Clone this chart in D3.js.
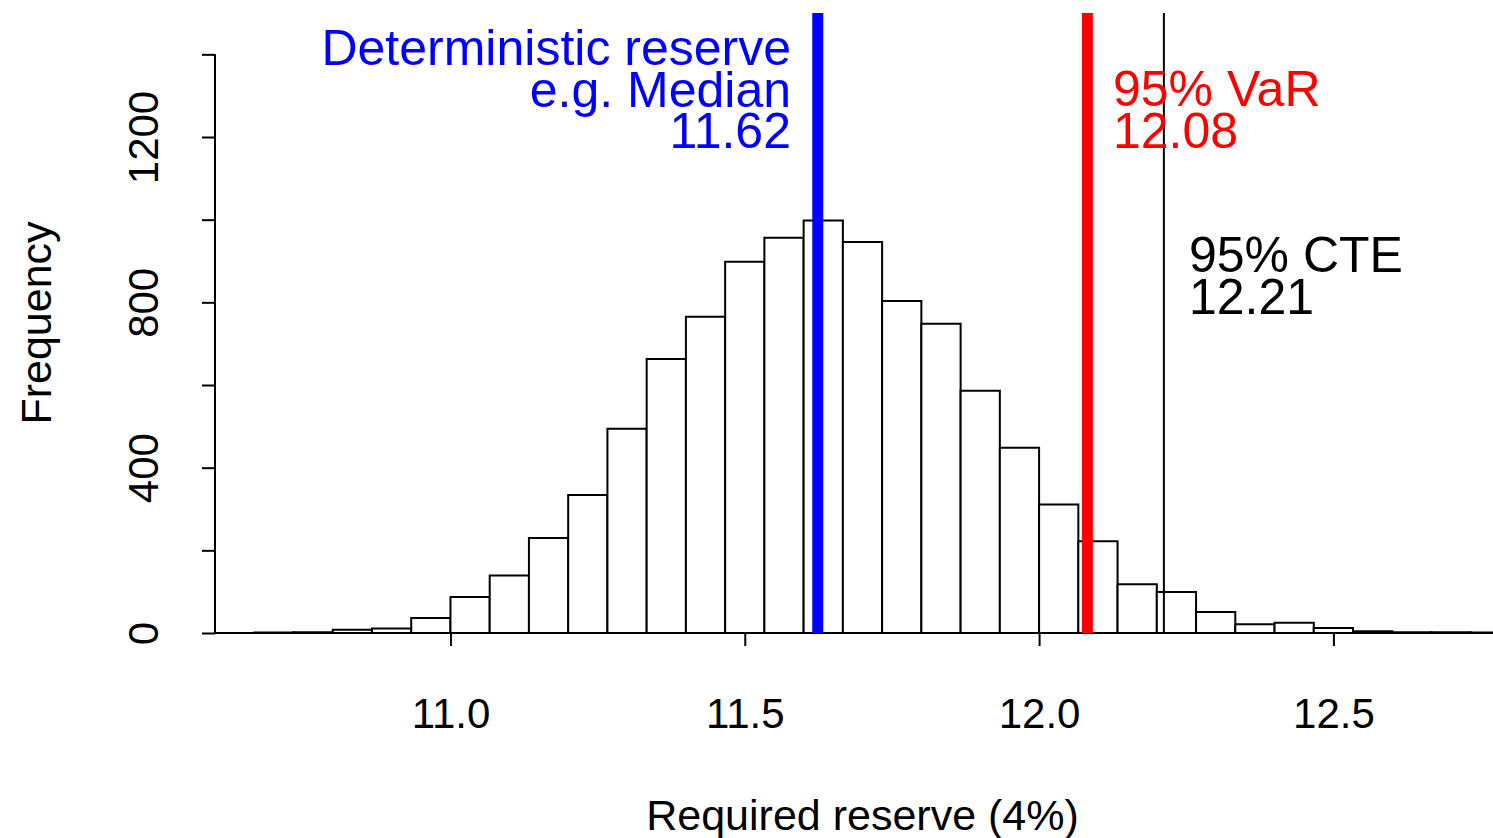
<!DOCTYPE html>
<html>
<head>
<meta charset="utf-8">
<script src="https://cdn.jsdelivr.net/npm/d3@7"></script>
<style>
  html, body { margin: 0; padding: 0; background: #ffffff; }
  svg { display: block; }
  text { font-family: "Liberation Sans", Arial, Helvetica, sans-serif; }
</style>
</head>
<body>
<svg id="chart" width="1493" height="838"></svg>
<script>
// Histogram breaks: from 10.6 to 12.8 in steps of 1/15
const breakStart = 10.6;
const breakEnd = 12.8;
const binsPerUnit = 15;

// Frequency in each bin (10,000 simulated required reserves)
const counts = [0, 1, 2, 8, 11, 36, 87, 139, 230, 334, 494, 663, 765, 898, 956, 998,
                946, 803, 748, 586, 448, 311, 222, 118, 99, 51, 21, 25, 12, 4, 2, 2, 1];

// Axis ticks
const xTicks = [11.0, 11.5, 12.0, 12.5];
const yTicks = [0, 200, 400, 600, 800, 1000, 1200, 1400];
const yTickLabels = [0, 400, 800, 1200];

// Summary statistics of the distribution
const medianValue = 11.624;
const varValue = 12.082;
const cteValue = 12.212;

const svg = d3.select("#chart");
const plot = { left: 215, right: 1510, top: 13, bottom: 633 };

const x = d3.scaleLinear().domain([breakStart, breakEnd]).range([plot.left, plot.right]);
const y = d3.scaleLinear().domain([0, 1500]).range([plot.bottom, plot.top]);

const bins = counts.map((c, i) => ({
  x0: breakStart + i / binsPerUnit,
  x1: breakStart + (i + 1) / binsPerUnit,
  count: c
}));

// Bars drawn as closed outlines so that empty bins still show on the baseline
svg.append("g")
  .selectAll("path")
  .data(bins)
  .join("path")
  .attr("d", d => {
    const p = d3.path();
    p.moveTo(x(d.x0), y(0));
    p.lineTo(x(d.x0), y(d.count));
    p.lineTo(x(d.x1), y(d.count));
    p.lineTo(x(d.x1), y(0));
    p.closePath();
    return p.toString();
  })
  .attr("fill", "#ffffff")
  .attr("stroke", "#000000")
  .attr("stroke-width", 2);

// Y axis
const yAxis = d3.axisLeft(y)
  .tickValues(yTicks)
  .tickSize(13)
  .tickSizeOuter(0)
  .tickFormat(d => yTickLabels.includes(d) ? d3.format("d")(d) : "");
const gy = svg.append("g")
  .attr("transform", `translate(${plot.left},0)`)
  .call(yAxis);
gy.select(".domain").remove();
gy.append("line")
  .attr("x1", 0).attr("x2", 0)
  .attr("y1", y(yTicks[0])).attr("y2", y(yTicks[yTicks.length - 1]))
  .attr("stroke", "#000").attr("stroke-width", 2);
gy.selectAll(".tick line").attr("stroke", "#000").attr("stroke-width", 2);
gy.selectAll(".tick text")
  .attr("x", null).attr("dy", null)
  .attr("fill", "#000")
  .attr("font-size", 42)
  .attr("text-anchor", "middle")
  .attr("transform", "translate(-57,0) rotate(-90)");

// X axis
const xAxis = d3.axisBottom(x)
  .tickValues(xTicks)
  .tickSize(13)
  .tickSizeOuter(0)
  .tickFormat(d3.format(".1f"));
const gx = svg.append("g")
  .attr("transform", `translate(0,${plot.bottom})`)
  .call(xAxis);
gx.select(".domain").remove();
gx.append("line")
  .attr("x1", x(xTicks[0])).attr("x2", x(xTicks[xTicks.length - 1]))
  .attr("y1", 0).attr("y2", 0)
  .attr("stroke", "#000").attr("stroke-width", 2);
gx.selectAll(".tick line").attr("stroke", "#000").attr("stroke-width", 2);
gx.selectAll(".tick text")
  .attr("y", 95).attr("dy", null)
  .attr("fill", "#000")
  .attr("font-size", 42);

// Axis titles
svg.append("text")
  .attr("x", (plot.left + plot.right) / 2)
  .attr("y", 830)
  .attr("text-anchor", "middle")
  .attr("font-size", 43)
  .text("Required reserve (4%)");

svg.append("text")
  .attr("transform", `translate(51,${(plot.top + plot.bottom) / 2}) rotate(-90)`)
  .attr("text-anchor", "middle")
  .attr("font-size", 43)
  .text("Frequency");

// Reference lines
const fmt = d3.format(".2f");
const refLines = [
  { value: medianValue, color: "#0000ff", width: 11 },
  { value: varValue, color: "#ff0000", width: 11 },
  { value: cteValue, color: "#000000", width: 2 }
];
svg.append("g")
  .selectAll("line")
  .data(refLines)
  .join("line")
  .attr("x1", d => x(d.value)).attr("x2", d => x(d.value))
  .attr("y1", plot.top).attr("y2", plot.bottom)
  .attr("stroke", d => d.color)
  .attr("stroke-width", d => d.width);

// Annotations
function annotate(lines, xPos, yFirst, anchor, color) {
  const t = svg.append("text")
    .attr("font-size", 50)
    .attr("fill", color)
    .attr("text-anchor", anchor);
  lines.forEach((s, i) => {
    t.append("tspan").attr("x", xPos).attr("y", yFirst + i * 41.5).text(s);
  });
}
annotate(["Deterministic reserve", "e.g. Median", fmt(medianValue)], 791, 65, "end", "#0000ff");
annotate(["95% VaR", fmt(varValue)], 1113, 106, "start", "#ff0000");
annotate(["95% CTE", fmt(cteValue)], 1189, 272, "start", "#000000");
</script>
</body>
</html>
